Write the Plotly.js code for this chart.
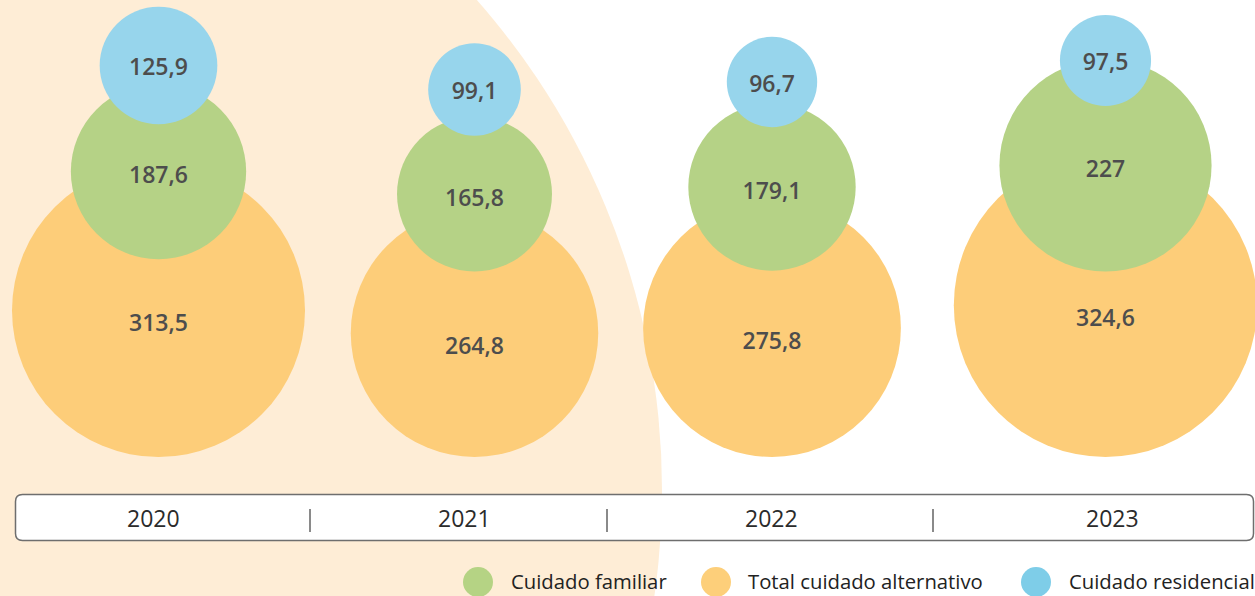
<!DOCTYPE html>
<html>
<head>
<meta charset="utf-8">
<script src="https://cdn.plot.ly/plotly-3.0.1.min.js"></script>
<style>
  html, body { margin: 0; padding: 0; background: #ffffff; }
  #chart { width: 1255px; height: 596px; }
</style>
</head>
<body>
<div id="chart"></div>
<script>
// Cuidado alternativo por año: burbujas apiladas (tamaño proporcional al valor)
const YEARS = ['2020', '2021', '2022', '2023'];
const TOTAL = [313.5, 264.8, 275.8, 324.6];        // Total cuidado alternativo
const FAMILIAR = [187.6, 165.8, 179.1, 227];       // Cuidado familiar
const RESIDENCIAL = [125.9, 99.1, 96.7, 97.5];     // Cuidado residencial
const LEGEND_NAMES = ['Cuidado familiar', 'Total cuidado alternativo', 'Cuidado residencial'];

// ---- layout (pixel-mapped axes: 1 unit = 1 px) ----
const W = 1255, H = 596;
const COL_X = [158.5, 474.5, 772, 1105.5];   // bubble column centres
const YEAR_X = [153.5, 464, 771, 1112];      // year label centres
const SEP_X = [310, 607, 933];
const BASE_Y = 457;                          // bottom of the orange bubbles
const GREEN_Y = [171.5, 194, 187, 165.5];
const BLUE_Y = [65.5, 89.5, 82, 60.5];
const SIZEREF = 1.07;                        // value -> diameter px

const COLORS = {
  orange: '#FDCD79', green: '#B5D286', blue: '#97D5EC',
  bg: '#FEEDD6', text: '#4D4D4D', year: '#2B2B2B',
  legOrange: '#FDCF7A', legGreen: '#B5D384', legBlue: '#7ECDE8',
};
const FONT = 'Open Sans, Noto Sans, sans-serif';
const fmtEs = v => String(v).replace('.', ',');

const radius = v => v / SIZEREF / 2;
const orangeY = TOTAL.map(v => BASE_Y - radius(v));

function bubbles(vals, ys, color, name) {
  return {
    x: COL_X, y: ys, mode: 'markers', name, showlegend: false, hoverinfo: 'skip',
    marker: { size: vals, sizemode: 'diameter', sizeref: SIZEREF, color, opacity: 1, line: { width: 0 } },
  };
}
function labels(vals, ys, dy) {
  return {
    x: COL_X, y: ys.map(y => y + dy), mode: 'text', showlegend: false, hoverinfo: 'skip',
    text: vals.map(fmtEs), textposition: 'middle center',
    textfont: { family: FONT, size: 23, color: COLORS.text, weight: 600 },
  };
}

const traces = [
  bubbles(TOTAL, orangeY, COLORS.orange, LEGEND_NAMES[1]),
  bubbles(FAMILIAR, GREEN_Y, COLORS.green, LEGEND_NAMES[0]),
  bubbles(RESIDENCIAL, BLUE_Y, COLORS.blue, LEGEND_NAMES[2]),
  labels(TOTAL, orangeY, 15),
  labels(FAMILIAR, GREEN_Y, 6),
  labels(RESIDENCIAL, BLUE_Y, 4),
  { // custom legend swatches
    x: [478, 716, 1036], y: [582, 582, 582], mode: 'markers', showlegend: false, hoverinfo: 'skip',
    marker: { size: 30, color: [COLORS.legGreen, COLORS.legOrange, COLORS.legBlue], line: { width: 0 } },
  },
];

// rounded year bar
const bx0 = 15.5, bx1 = 1253.5, by0 = 494.5, by1 = 540.5, rr = 7;
const barPath = `M ${bx0 + rr},${by0} L ${bx1 - rr},${by0} Q ${bx1},${by0} ${bx1},${by0 + rr} ` +
  `L ${bx1},${by1 - rr} Q ${bx1},${by1} ${bx1 - rr},${by1} L ${bx0 + rr},${by1} ` +
  `Q ${bx0},${by1} ${bx0},${by1 - rr} L ${bx0},${by0 + rr} Q ${bx0},${by0} ${bx0 + rr},${by0} Z`;

const bgR = 741, bgCx = -79, bgCy = 490;
const shapes = [
  { type: 'circle', layer: 'below', xref: 'x', yref: 'y',
    x0: bgCx - bgR, x1: bgCx + bgR, y0: bgCy - bgR, y1: bgCy + bgR,
    fillcolor: COLORS.bg, line: { width: 0 } },
  { type: 'path', layer: 'above', path: barPath, fillcolor: '#ffffff', line: { color: '#6E6E6E', width: 1.5 } },
  ...SEP_X.map(x => ({ type: 'line', layer: 'above', x0: x, x1: x, y0: 509, y1: 532,
    line: { color: '#8A8A8A', width: 2 } })),
];

const annotations = [
  ...YEARS.map((yr, i) => ({ x: YEAR_X[i], y: 518, text: yr, showarrow: false,
    xanchor: 'center', yanchor: 'middle', font: { family: FONT, size: 23, color: COLORS.year } })),
  ...LEGEND_NAMES.map((t, i) => ({ x: [509, 746, 1067][i], y: 581, text: t, showarrow: false,
    xanchor: 'left', yanchor: 'middle', font: { family: FONT, size: 20.3, color: '#222222' } })),
];

Plotly.newPlot('chart', traces, {
  width: W, height: H, autosize: false,
  margin: { l: 0, r: 0, t: 0, b: 0, pad: 0 },
  paper_bgcolor: '#ffffff', plot_bgcolor: 'rgba(0,0,0,0)',
  showlegend: false,
  xaxis: { range: [0, W], visible: false, fixedrange: true },
  yaxis: { range: [H, 0], visible: false, fixedrange: true },
  shapes, annotations,
}, { staticPlot: true, displayModeBar: false });
</script>
</body>
</html>
